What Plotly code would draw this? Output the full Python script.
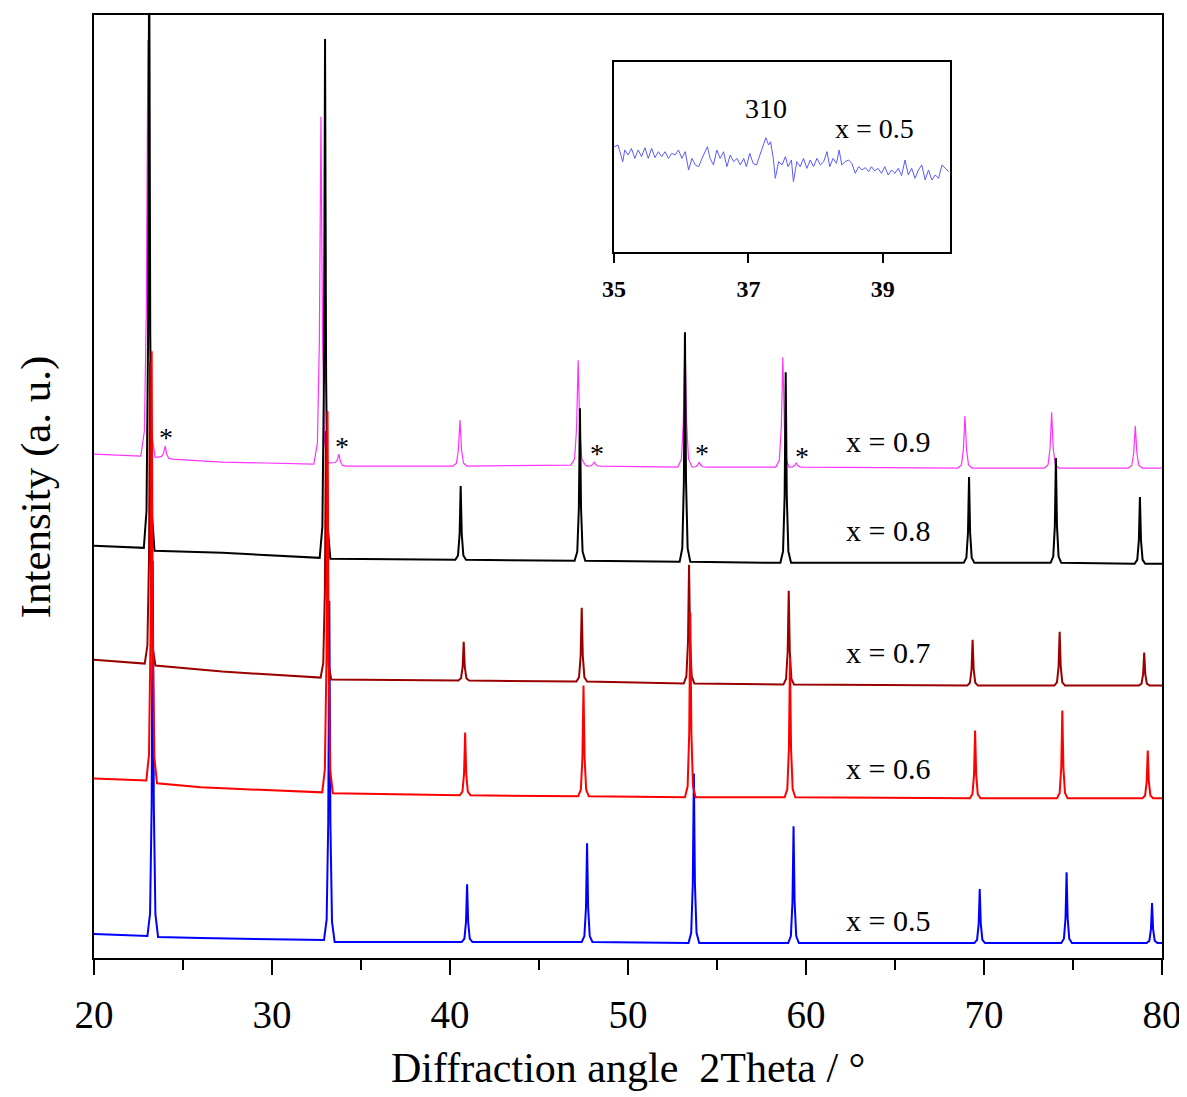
import plotly.graph_objects as go

# ---------------- data ----------------
# 2Theta in degrees, intensity in arbitrary units
labels = ["x = 0.5", "x = 0.6", "x = 0.7", "x = 0.8", "x = 0.9"]

# x = 0.5
blue_base_x = [20.0, 26.0, 80.0]
blue_base_y = [24, 20, 15]
blue_pos = [23.30, 33.22, 40.96, 47.70, 53.70, 59.30, 69.76, 74.64, 79.44]
blue_top = [398, 358, 74, 115, 185, 132, 69, 86, 55]
blue_lb = [22, 18, 16, 16, 15, 15, 15, 15, 15]
blue_rb = [21, 16, 16, 16, 15, 15, 15, 15, 15]

# x = 0.6
red_base_x = [20.0, 26.0, 80.0]
red_base_y = [180, 171, 160]
red_pos = [23.24, 33.12, 40.85, 47.50, 53.50, 59.10, 69.50, 74.40, 79.20]
red_top = [608, 548, 226, 273, 346, 301, 228, 248, 208]
red_lb = [178, 166, 163, 162, 161, 161, 160, 160, 160]
red_rb = [175, 165, 163, 162, 161, 161, 160, 160, 160]

# x = 0.7
dred_base_x = [20.0, 27.2, 80.0]
dred_base_y = [299, 287, 273]
dred_pos = [23.15, 33.03, 40.77, 47.40, 53.43, 59.03, 69.36, 74.25, 79.00]
dred_top = [598, 528, 317, 351, 394, 368, 319, 327, 306]
dred_lb = [295, 281, 278, 277, 275, 274, 273, 273, 273]
dred_rb = [293, 279, 278, 277, 275, 274, 273, 273, 273]

# x = 0.8
black_base_x = [20.0, 27.2, 80.0]
black_base_y = [413, 406, 395]
black_pos = [23.10, 32.98, 40.60, 47.30, 53.20, 58.86, 69.16, 74.04, 78.76]
black_top = [1028, 921, 473, 551, 627, 587, 482, 501, 462]
black_lb = [411, 401, 399, 398, 397, 396, 396, 396, 395]
black_rb = [408, 400, 399, 398, 397, 396, 396, 396, 395]

# x = 0.9 (includes the small impurity reflections marked *)
mag_base_x = [20.0, 27.2, 80.0]
mag_base_y = [505, 497, 491]
mag_pos = [23.03, 24.00, 32.75, 33.76, 40.56, 47.20, 48.10, 53.20, 54.00, 58.70, 59.45, 68.93, 73.80, 78.50]
mag_top = [920, 513, 843, 505, 539, 599, 497, 623, 497, 602, 496, 543, 547, 533]
mag_lb = [503, 502, 495, 496, 493, 494, 493, 492, 492, 492, 492, 491, 491, 491]
mag_rb = [502, 500, 496, 493, 493, 494, 493, 492, 492, 492, 492, 491, 491, 491]

# asterisk marks (2Theta, intensity)
star_x = [24.04, 33.93, 48.26, 54.16, 59.78]
star_y = [522, 513, 506, 506, 503]

# label positions (2Theta, intensity)
label_x = [64.6, 64.6, 64.6, 64.6, 64.6]
label_y = [38, 190, 306, 428, 518]

# inset: x = 0.5, 35-40 degrees
inset_theta = [35.00, 35.06, 35.13, 35.16, 35.21, 35.26, 35.31, 35.36, 35.41, 35.46,
               35.51, 35.56, 35.61, 35.66, 35.71, 35.76, 35.81, 35.86, 35.91, 35.96,
               36.01, 36.06, 36.11, 36.16, 36.21, 36.26, 36.31, 36.35, 36.39, 36.43,
               36.48, 36.53, 36.58, 36.63, 36.68, 36.73, 36.78, 36.83, 36.88, 36.93,
               36.97, 37.02, 37.07, 37.12, 37.17, 37.22, 37.26, 37.30, 37.33, 37.37,
               37.40, 37.45, 37.50, 37.55, 37.59, 37.64, 37.67, 37.72, 37.77, 37.82,
               37.87, 37.92, 37.97, 38.02, 38.07, 38.12, 38.17, 38.21, 38.26, 38.31,
               38.35, 38.39, 38.44, 38.49, 38.54, 38.59, 38.64, 38.69, 38.74, 38.79,
               38.83, 38.88, 38.93, 38.98, 39.03, 39.08, 39.13, 39.18, 39.23, 39.28,
               39.33, 39.38, 39.43, 39.48, 39.53, 39.58, 39.63, 39.68, 39.73, 39.78,
               39.83, 39.88, 39.93, 39.98]
inset_int = [105, 106.7, 90, 101.7, 96.7, 103.3, 93.3, 101.7, 95, 104,
             93.3, 103.3, 94, 100, 95, 100, 93.3, 98.3, 96.7, 101.7,
             93.3, 100, 81.7, 93.3, 86.7, 85, 93.3, 100, 105, 93.3,
             86.7, 101.7, 93.3, 100, 85, 96.7, 90, 93.3, 86.7, 93.3,
             85, 98.3, 88.3, 86.7, 96.7, 105, 114, 106.7, 110, 93.3,
             73.3, 90, 86.7, 95, 85, 91.7, 70, 90, 85, 93.3,
             83.3, 91.7, 85, 93.3, 86.7, 90, 100, 85, 93.3, 88.3,
             101.7, 86.7, 90, 91.7, 88.3, 78.3, 85, 81.7, 84, 80,
             85, 80.7, 83.3, 78.3, 85, 76.7, 81.7, 78.3, 83.3, 76,
             91.7, 76.7, 83.3, 73.3, 81.7, 86.7, 71.7, 81.7, 71.7, 76.7,
             73.3, 86.7, 83.3, 80]

# ---------------- drawing helpers (peak profile = style) ----------------
NARROW = [(0.30, 0.0), (0.15, 0.06), (0.06, 0.35)]
BROAD = [(0.40, 0.0), (0.20, 0.06), (0.09, 0.35)]


def profile(base_x, base_y, pos, top, lb, rb, shape):
    pts = list(zip(base_x, base_y))
    for p, t, l, r in zip(pos, top, lb, rb):
        for off, fr in shape:
            pts.append((p - off, l + fr * (t - l)))
            pts.append((p + off, r + fr * (t - r)))
        pts.append((p, t))
    pts.sort(key=lambda v: v[0])
    return [v[0] for v in pts], [v[1] for v in pts]


FONT = "Liberation Serif, Times New Roman, serif"

fig = go.Figure()

traces = [
    (blue_base_x, blue_base_y, blue_pos, blue_top, blue_lb, blue_rb, NARROW, "#0000ff", 2.0, labels[0]),
    (mag_base_x, mag_base_y, mag_pos, mag_top, mag_lb, mag_rb, BROAD, "#ff33ff", 1.2, labels[4]),
    (black_base_x, black_base_y, black_pos, black_top, black_lb, black_rb, NARROW, "#000000", 2.0, labels[3]),
    (dred_base_x, dred_base_y, dred_pos, dred_top, dred_lb, dred_rb, NARROW, "#9a0000", 2.0, labels[2]),
    (red_base_x, red_base_y, red_pos, red_top, red_lb, red_rb, NARROW, "#ff0000", 2.0, labels[1]),
]
for bx, by, ps, tp, l, r, shp, col, lw, name in traces:
    xs, ys = profile(bx, by, ps, tp, l, r, shp)
    fig.add_trace(go.Scatter(x=xs, y=ys, mode="lines", name=name,
                             line=dict(color=col, width=lw), showlegend=False,
                             xaxis="x", yaxis="y"))

fig.add_trace(go.Scatter(x=inset_theta, y=inset_int, mode="lines", name="inset x = 0.5",
                         line=dict(color="#5a5aff", width=1), showlegend=False,
                         xaxis="x2", yaxis="y2"))

# series labels
for lx, ly, txt in zip(label_x, label_y, labels):
    fig.add_annotation(x=lx, y=ly, xref="x", yref="y", text=txt, showarrow=False,
                       font=dict(family=FONT, size=30, color="black"),
                       xanchor="center", yanchor="middle")

for sx, sy in zip(star_x, star_y):
    fig.add_annotation(x=sx, y=sy, xref="x", yref="y", text="*", showarrow=False,
                       font=dict(family=FONT, size=28, color="black"),
                       xanchor="center", yanchor="middle")

# inset labels
fig.add_annotation(x=37.26, y=143, xref="x2", yref="y2", text="310", showarrow=False,
                   font=dict(family=FONT, size=28, color="black"))
fig.add_annotation(x=38.88, y=123, xref="x2", yref="y2", text="x = 0.5", showarrow=False,
                   font=dict(family=FONT, size=28, color="black"))

# axis titles
fig.add_annotation(x=0.5, y=-0.117, xref="paper", yref="paper",
                   text="Diffraction angle \u00a02Theta / \u00b0", showarrow=False,
                   font=dict(family=FONT, size=42, color="black"),
                   xanchor="center", yanchor="middle")
fig.add_annotation(x=-0.0545, y=0.5, xref="paper", yref="paper",
                   text="Intensity (a. u.)", showarrow=False, textangle=-90,
                   font=dict(family=FONT, size=43, color="black"),
                   xanchor="center", yanchor="middle")

fig.update_layout(
    width=1179, height=1089,
    margin=dict(l=86, r=25, t=5, b=139),
    paper_bgcolor="white", plot_bgcolor="white",
    font=dict(family=FONT, color="black"),
    xaxis=dict(range=[20, 80], domain=[0, 1], showline=True, linecolor="black", linewidth=2,
               mirror=True, showgrid=False, zeroline=False,
               tickmode="linear", tick0=20, dtick=10, ticks="outside", ticklen=15,
               tickwidth=2, tickcolor="black", ticklabelstandoff=6,
               tickfont=dict(family=FONT, size=39, color="black"),
               minor=dict(ticks="outside", dtick=5, tick0=20, ticklen=10, tickwidth=2,
                          tickcolor="black", showgrid=False)),
    yaxis=dict(range=[0, 945], domain=[0, 1], showline=True, linecolor="black", linewidth=2,
               mirror=True, showgrid=False, zeroline=False, showticklabels=False, ticks=""),
    xaxis2=dict(range=[35, 40], domain=[0.4869, 0.8015], anchor="y2",
                showline=True, linecolor="black", linewidth=2, mirror=True,
                showgrid=False, zeroline=False, tickmode="array", tickvals=[35, 37, 39],
                ticks="outside", ticklen=9, tickwidth=2, tickcolor="black",
                ticklabelstandoff=6,
                tickfont=dict(family=FONT, size=24, color="black", weight="bold")),
    yaxis2=dict(range=[0, 190], domain=[0.7492, 0.9503], anchor="x2",
                showline=True, linecolor="black", linewidth=2, mirror=True,
                showgrid=False, zeroline=False, showticklabels=False, ticks=""),
)

fig.write_html("out.html")
